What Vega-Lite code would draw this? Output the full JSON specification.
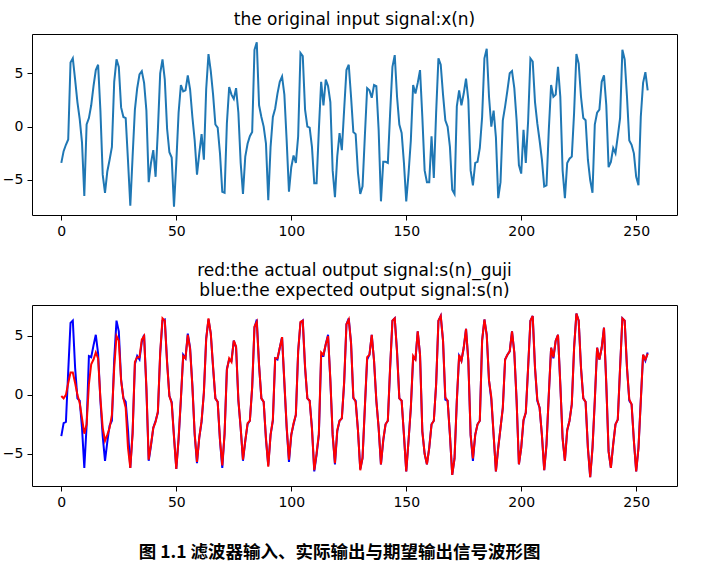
{
  "$schema": "https://vega.github.io/schema/vega-lite/v6.json",
  "background": "white",
  "padding": {"left": 1, "top": 10, "right": 5, "bottom": 5},
  "config": {
    "font": "DejaVu Sans",
    "view": {"stroke": "black", "strokeWidth": 1},
    "axis": {"grid": false, "domain": false, "ticks": true, "tickColor": "black", "tickSize": 5, "labelColor": "black", "labelFontSize": 14, "labelFont": "DejaVu Sans", "labelPadding": 4, "title": null},
    "title": {"font": "DejaVu Sans", "fontSize": 17, "fontWeight": "normal", "color": "black", "lineHeight": 20}
  },
  "datasets": {
    "d": [
      {"n":0,"x":-3.4,"s":-3.5,"g":-0.1},{"n":1,"x":-2.3,"s":-2.4,"g":-0.3},{"n":2,"x":-1.7,"s":-2.3,"g":0.0},{"n":3,"x":-1.2,"s":2.0,"g":1.0},{"n":4,"x":6.0,"s":6.1,"g":1.9},{"n":5,"x":6.4,"s":6.3,"g":1.9},{"n":6,"x":4.4,"s":2.3,"g":1.0},{"n":7,"x":2.3,"s":-0.3,"g":0.0},{"n":8,"x":0.7,"s":-0.5,"g":-0.7},{"n":9,"x":-1.5,"s":-2.8,"g":-2.0},
      {"n":10,"x":-6.5,"s":-6.2,"g":-3.3},{"n":11,"x":0.2,"s":-2.6,"g":-2.5},{"n":12,"x":0.8,"s":3.3,"g":0.9},{"n":13,"x":2.0,"s":3.2,"g":2.6},{"n":14,"x":3.8,"s":4.2,"g":3.0},{"n":15,"x":5.3,"s":5.1,"g":3.6},{"n":16,"x":5.8,"s":3.5,"g":3.1},{"n":17,"x":1.5,"s":-0.5,"g":-0.3},{"n":18,"x":-4.5,"s":-3.5,"g":-2.8},{"n":19,"x":-6.2,"s":-5.6,"g":-3.9},
      {"n":20,"x":-4.2,"s":-4.0,"g":-3.4},{"n":21,"x":-3.1,"s":-2.6,"g":-2.8},{"n":22,"x":-1.9,"s":-2.2,"g":-1.7},{"n":23,"x":4.2,"s":3.0,"g":2.3},{"n":24,"x":6.3,"s":6.3,"g":5.0},{"n":25,"x":5.6,"s":5.4,"g":4.6},{"n":26,"x":1.8,"s":1.3,"g":1.2},{"n":27,"x":0.9,"s":-0.3,"g":-0.3},{"n":28,"x":0.8,"s":-0.6,"g":-1.1},{"n":29,"x":-3.2,"s":-3.0,"g":-4.5},
      {"n":30,"x":-7.4,"s":-6.2,"g":-6.2},{"n":31,"x":-2.8,"s":-3.2,"g":-3.3},{"n":32,"x":1.6,"s":2.6,"g":2.8},{"n":33,"x":3.6,"s":3.3,"g":3.2},{"n":34,"x":4.9,"s":3.0,"g":3.2},{"n":35,"x":5.2,"s":4.5,"g":4.7},{"n":36,"x":4.1,"s":5.1,"g":5.0},{"n":37,"x":1.5,"s":0.5,"g":0.6},{"n":38,"x":-5.2,"s":-5.6,"g":-5.5},{"n":39,"x":-3.4,"s":-4.3,"g":-4.2},
      {"n":40,"x":-2.2,"s":-2.8,"g":-2.8},{"n":41,"x":-4.7,"s":-2.2,"g":-2.3},{"n":42,"x":-0.3,"s":-1.5,"g":-1.4},{"n":43,"x":5.0,"s":3.5,"g":3.6},{"n":44,"x":6.3,"s":6.3,"g":6.5},{"n":45,"x":4.4,"s":6.4,"g":6.3},{"n":46,"x":-0.2,"s":2.8,"g":2.7},{"n":47,"x":-2.4,"s":-0.1,"g":-0.1},{"n":48,"x":-2.9,"s":-0.6,"g":-0.7},{"n":49,"x":-7.5,"s":-3.5,"g":-3.6},
      {"n":50,"x":-3.4,"s":-6.3,"g":-6.3},{"n":51,"x":1.3,"s":-3.8,"g":-3.7},{"n":52,"x":3.9,"s":-0.4,"g":-0.3},{"n":53,"x":3.3,"s":3.4,"g":3.3},{"n":54,"x":3.4,"s":3.1,"g":3.1},{"n":55,"x":4.8,"s":5.2,"g":5.1},{"n":56,"x":3.5,"s":4.0,"g":3.9},{"n":57,"x":0.9,"s":0.8,"g":0.7},{"n":58,"x":-1.3,"s":-3.4,"g":-3.3},{"n":59,"x":-4.5,"s":-5.8,"g":-5.7},
      {"n":60,"x":-2.5,"s":-3.6,"g":-3.6},{"n":61,"x":-0.7,"s":-2.3,"g":-2.2},{"n":62,"x":-3.1,"s":0.2,"g":0.2},{"n":63,"x":3.5,"s":4.8,"g":4.7},{"n":64,"x":6.8,"s":6.4,"g":6.5},{"n":65,"x":5.2,"s":5.2,"g":5.2},{"n":66,"x":3.0,"s":2.3,"g":2.4},{"n":67,"x":0.2,"s":-0.3,"g":-0.3},{"n":68,"x":-0.1,"s":-0.6,"g":-0.6},{"n":69,"x":-2.5,"s":-3.9,"g":-3.8},
      {"n":70,"x":-6.1,"s":-6.2,"g":-6.0},{"n":71,"x":-6.2,"s":-3.3,"g":-3.3},{"n":72,"x":0.3,"s":2.2,"g":2.1},{"n":73,"x":3.7,"s":3.0,"g":3.1},{"n":74,"x":3.0,"s":2.9,"g":2.8},{"n":75,"x":2.6,"s":4.6,"g":4.6},{"n":76,"x":3.6,"s":4.0,"g":4.1},{"n":77,"x":1.3,"s":-0.5,"g":-0.4},{"n":78,"x":-3.4,"s":-2.8,"g":-2.8},{"n":79,"x":-6.3,"s":-5.6,"g":-5.5},
      {"n":80,"x":-2.8,"s":-3.9,"g":-3.9},{"n":81,"x":-1.6,"s":-2.5,"g":-2.4},{"n":82,"x":-0.9,"s":-2.2,"g":-2.2},{"n":83,"x":-0.5,"s":0.6,"g":0.7},{"n":84,"x":7.2,"s":5.7,"g":5.8},{"n":85,"x":7.9,"s":6.4,"g":6.2},{"n":86,"x":2.0,"s":2.5,"g":2.5},{"n":87,"x":0.9,"s":-0.3,"g":-0.3},{"n":88,"x":0.0,"s":-0.6,"g":-0.6},{"n":89,"x":-1.6,"s":-3.8,"g":-3.7},
      {"n":90,"x":-6.9,"s":-6.0,"g":-6.1},{"n":91,"x":-1.9,"s":-3.4,"g":-3.4},{"n":92,"x":0.9,"s":-2.2,"g":-2.1},{"n":93,"x":1.7,"s":3.1,"g":3.1},{"n":94,"x":3.1,"s":3.0,"g":3.1},{"n":95,"x":4.2,"s":4.0,"g":4.0},{"n":96,"x":4.7,"s":4.9,"g":4.9},{"n":97,"x":3.0,"s":1.0,"g":1.1},{"n":98,"x":-1.3,"s":-2.8,"g":-2.7},{"n":99,"x":-6.1,"s":-5.7,"g":-5.5},
      {"n":100,"x":-3.8,"s":-3.4,"g":-3.4},{"n":101,"x":-2.7,"s":-2.5,"g":-2.4},{"n":102,"x":-3.4,"s":-1.7,"g":-1.7},{"n":103,"x":-0.9,"s":3.7,"g":3.7},{"n":104,"x":6.9,"s":6.1,"g":6.2},{"n":105,"x":6.6,"s":6.3,"g":6.3},{"n":106,"x":1.6,"s":2.3,"g":2.4},{"n":107,"x":0.0,"s":-0.3,"g":-0.3},{"n":108,"x":-0.1,"s":-0.5,"g":-0.5},{"n":109,"x":-1.9,"s":-2.8,"g":-2.9},
      {"n":110,"x":-5.3,"s":-6.5,"g":-6.4},{"n":111,"x":-5.3,"s":-5.1,"g":-5.0},{"n":112,"x":-0.3,"s":-3.4,"g":-3.3},{"n":113,"x":4.2,"s":3.3,"g":3.6},{"n":114,"x":2.0,"s":3.3,"g":3.4},{"n":115,"x":4.4,"s":4.3,"g":4.3},{"n":116,"x":3.8,"s":5.1,"g":5.0},{"n":117,"x":2.3,"s":1.2,"g":1.3},{"n":118,"x":-4.1,"s":-3.4,"g":-3.4},{"n":119,"x":-6.6,"s":-5.9,"g":-5.8},
      {"n":120,"x":-2.8,"s":-3.1,"g":-3.0},{"n":121,"x":-0.6,"s":-2.2,"g":-2.2},{"n":122,"x":-2.2,"s":-2.0,"g":-2.0},{"n":123,"x":1.6,"s":1.0,"g":1.1},{"n":124,"x":5.3,"s":6.0,"g":6.0},{"n":125,"x":5.8,"s":6.5,"g":6.4},{"n":126,"x":2.8,"s":4.4,"g":4.4},{"n":127,"x":-0.5,"s":-0.3,"g":-0.2},{"n":128,"x":-0.7,"s":-0.5,"g":-0.6},{"n":129,"x":-4.3,"s":-3.0,"g":-3.0},
      {"n":130,"x":-6.3,"s":-6.3,"g":-6.4},{"n":131,"x":-5.6,"s":-5.4,"g":-5.3},{"n":132,"x":-0.9,"s":-1.1,"g":-1.1},{"n":133,"x":3.6,"s":3.0,"g":3.2},{"n":134,"x":3.4,"s":3.4,"g":3.4},{"n":135,"x":2.7,"s":5.1,"g":5.1},{"n":136,"x":3.9,"s":2.9,"g":2.9},{"n":137,"x":3.8,"s":-0.5,"g":-0.5},{"n":138,"x":-0.3,"s":-2.8,"g":-2.8},{"n":139,"x":-7.0,"s":-5.9,"g":-5.9},
      {"n":140,"x":-3.3,"s":-3.9,"g":-3.8},{"n":141,"x":-3.3,"s":-2.5,"g":-2.5},{"n":142,"x":-3.4,"s":-2.2,"g":-2.2},{"n":143,"x":1.3,"s":2.3,"g":2.4},{"n":144,"x":5.6,"s":6.3,"g":6.3},{"n":145,"x":6.7,"s":6.5,"g":6.5},{"n":146,"x":2.8,"s":3.7,"g":3.6},{"n":147,"x":0.2,"s":-0.3,"g":-0.3},{"n":148,"x":-0.6,"s":-0.5,"g":-0.5},{"n":149,"x":-3.4,"s":-3.4,"g":-3.4},
      {"n":150,"x":-7.0,"s":-6.5,"g":-6.5},{"n":151,"x":-4.4,"s":-3.9,"g":-3.9},{"n":152,"x":-1.3,"s":-1.1,"g":-1.1},{"n":153,"x":3.9,"s":3.1,"g":3.3},{"n":154,"x":3.1,"s":3.0,"g":3.0},{"n":155,"x":4.1,"s":5.4,"g":5.4},{"n":156,"x":5.3,"s":3.4,"g":3.4},{"n":157,"x":0.9,"s":-3.1,"g":-3.1},{"n":158,"x":-4.1,"s":-5.0,"g":-5.0},{"n":159,"x":-5.2,"s":-5.9,"g":-5.9},
      {"n":160,"x":-5.2,"s":-4.5,"g":-4.5},{"n":161,"x":-0.9,"s":-2.5,"g":-2.5},{"n":162,"x":-4.8,"s":-2.2,"g":-2.2},{"n":163,"x":1.3,"s":0.9,"g":0.9},{"n":164,"x":6.4,"s":6.3,"g":6.3},{"n":165,"x":5.8,"s":6.7,"g":6.7},{"n":166,"x":3.0,"s":4.6,"g":4.6},{"n":167,"x":0.6,"s":-0.4,"g":-0.2},{"n":168,"x":0.0,"s":-0.5,"g":-0.5},{"n":169,"x":-1.9,"s":-3.4,"g":-3.4},
      {"n":170,"x":-5.9,"s":-6.8,"g":-6.8},{"n":171,"x":-6.3,"s":-5.4,"g":-5.4},{"n":172,"x":1.9,"s":-0.5,"g":-0.5},{"n":173,"x":3.4,"s":3.3,"g":3.4},{"n":174,"x":2.0,"s":2.9,"g":2.9},{"n":175,"x":3.1,"s":4.0,"g":4.0},{"n":176,"x":4.5,"s":5.6,"g":5.6},{"n":177,"x":2.5,"s":2.9,"g":2.9},{"n":178,"x":-4.1,"s":-3.4,"g":-3.4},{"n":179,"x":-5.5,"s":-5.6,"g":-5.4},
      {"n":180,"x":-3.4,"s":-3.4,"g":-3.4},{"n":181,"x":-3.3,"s":-2.5,"g":-2.5},{"n":182,"x":-2.0,"s":-2.2,"g":-2.2},{"n":183,"x":0.9,"s":4.6,"g":4.6},{"n":184,"x":6.4,"s":6.4,"g":6.4},{"n":185,"x":7.3,"s":5.1,"g":5.1},{"n":186,"x":2.8,"s":1.2,"g":1.2},{"n":187,"x":0.0,"s":-0.4,"g":-0.2},{"n":188,"x":1.5,"s":-3.4,"g":-3.4},{"n":189,"x":-1.0,"s":-6.5,"g":-6.5},
      {"n":190,"x":-6.7,"s":-4.5,"g":-4.5},{"n":191,"x":-5.2,"s":-2.8,"g":-2.8},{"n":192,"x":0.6,"s":-1.1,"g":-1.1},{"n":193,"x":1.9,"s":3.0,"g":3.0},{"n":194,"x":3.4,"s":3.4,"g":3.4},{"n":195,"x":5.0,"s":3.7,"g":3.7},{"n":196,"x":5.2,"s":5.4,"g":5.4},{"n":197,"x":3.6,"s":3.6,"g":3.6},{"n":198,"x":0.6,"s":-0.5,"g":-0.5},{"n":199,"x":-3.6,"s":-5.9,"g":-5.9},
      {"n":200,"x":-4.4,"s":-4.5,"g":-4.5},{"n":201,"x":-0.3,"s":-2.2,"g":-2.1},{"n":202,"x":-3.4,"s":-1.5,"g":-1.5},{"n":203,"x":0.5,"s":2.3,"g":2.3},{"n":204,"x":6.4,"s":6.3,"g":6.3},{"n":205,"x":6.1,"s":6.7,"g":6.7},{"n":206,"x":2.3,"s":2.3,"g":2.3},{"n":207,"x":0.3,"s":-0.5,"g":-0.4},{"n":208,"x":-1.3,"s":-1.1,"g":-1.1},{"n":209,"x":-3.1,"s":-3.4,"g":-3.4},
      {"n":210,"x":-5.6,"s":-6.4,"g":-6.4},{"n":211,"x":-5.5,"s":-4.2,"g":-4.2},{"n":212,"x":-0.3,"s":0.0,"g":0.0},{"n":213,"x":3.9,"s":4.0,"g":4.0},{"n":214,"x":2.8,"s":3.1,"g":3.2},{"n":215,"x":3.0,"s":4.6,"g":4.6},{"n":216,"x":5.6,"s":5.1,"g":5.1},{"n":217,"x":2.8,"s":0.9,"g":0.9},{"n":218,"x":-4.1,"s":-3.7,"g":-3.7},{"n":219,"x":-6.7,"s":-5.6,"g":-5.6},
      {"n":220,"x":-3.4,"s":-3.0,"g":-3.0},{"n":221,"x":-3.0,"s":-2.2,"g":-2.2},{"n":222,"x":-2.8,"s":-0.8,"g":-0.8},{"n":223,"x":1.3,"s":4.0,"g":4.0},{"n":224,"x":6.8,"s":6.9,"g":6.9},{"n":225,"x":5.9,"s":6.3,"g":6.3},{"n":226,"x":2.8,"s":2.3,"g":2.3},{"n":227,"x":0.8,"s":-0.3,"g":-0.3},{"n":228,"x":0.6,"s":-0.6,"g":-0.6},{"n":229,"x":-3.1,"s":-4.5,"g":-4.5},
      {"n":230,"x":-5.0,"s":-7.0,"g":-7.0},{"n":231,"x":-6.2,"s":-4.5,"g":-4.5},{"n":232,"x":0.2,"s":-0.5,"g":-0.5},{"n":233,"x":1.3,"s":4.0,"g":4.0},{"n":234,"x":1.6,"s":3.0,"g":3.0},{"n":235,"x":4.2,"s":4.0,"g":4.0},{"n":236,"x":4.8,"s":5.7,"g":5.7},{"n":237,"x":2.0,"s":0.9,"g":0.9},{"n":238,"x":-3.8,"s":-4.8,"g":-4.8},{"n":239,"x":-3.3,"s":-6.2,"g":-6.2},
      {"n":240,"x":-2.0,"s":-4.2,"g":-4.2},{"n":241,"x":-2.5,"s":-2.5,"g":-2.5},{"n":242,"x":-0.9,"s":-2.1,"g":-2.1},{"n":243,"x":0.8,"s":2.3,"g":2.3},{"n":244,"x":7.2,"s":6.5,"g":6.5},{"n":245,"x":6.3,"s":6.3,"g":6.3},{"n":246,"x":2.8,"s":2.3,"g":2.3},{"n":247,"x":-1.3,"s":-0.5,"g":-0.4},{"n":248,"x":-1.7,"s":-0.8,"g":-0.8},{"n":249,"x":-2.5,"s":-3.9,"g":-3.9},
      {"n":250,"x":-4.7,"s":-6.5,"g":-6.5},{"n":251,"x":-5.5,"s":-4.5,"g":-4.5},{"n":252,"x":0.9,"s":-0.5,"g":-0.5},{"n":253,"x":4.1,"s":3.4,"g":3.4},{"n":254,"x":5.1,"s":2.9,"g":3.0},{"n":255,"x":3.4,"s":3.6,"g":3.5}
    ]
  },
  "spacing": 22,
  "title": {
    "text": "图 1.1 滤波器输入、实际输出与期望输出信号波形图",
    "orient": "bottom",
    "anchor": "middle",
    "font": "Noto Sans CJK SC",
    "fontSize": 17.5,
    "fontWeight": "bold",
    "offset": 34
  },
  "vconcat": [
    {
      "width": 645,
      "height": 181,
      "title": {"text": "the original input signal:x(n)", "offset": 5},
      "data": {"name": "d"},
      "mark": {"type": "line", "color": "#1f77b4", "strokeWidth": 2},
      "encoding": {
        "x": {"field": "n", "type": "quantitative", "scale": {"domain": [-12.75, 267.75], "nice": false, "zero": false}, "axis": {"values": [0, 50, 100, 150, 200, 250]}},
        "y": {"field": "x", "type": "quantitative", "scale": {"domain": [-8.28, 8.68], "nice": false, "zero": false}, "axis": {"values": [-5, 0, 5]}}
      }
    },
    {
      "width": 645,
      "height": 181,
      "title": {"text": ["red:the actual output signal:s(n)_guji", "blue:the expected output signal:s(n)"], "offset": 5},
      "data": {"name": "d"},
      "encoding": {
        "x": {"field": "n", "type": "quantitative", "scale": {"domain": [-12.75, 267.75], "nice": false, "zero": false}, "axis": {"values": [0, 50, 100, 150, 200, 250]}}
      },
      "layer": [
        {
          "mark": {"type": "line", "color": "#0000ff", "strokeWidth": 2},
          "encoding": {"y": {"field": "s", "type": "quantitative", "scale": {"domain": [-7.74, 7.63], "nice": false, "zero": false}, "axis": {"values": [-5, 0, 5]}}}
        },
        {
          "mark": {"type": "line", "color": "#ff0000", "strokeWidth": 2},
          "encoding": {"y": {"field": "g", "type": "quantitative"}}
        }
      ]
    }
  ]
}
